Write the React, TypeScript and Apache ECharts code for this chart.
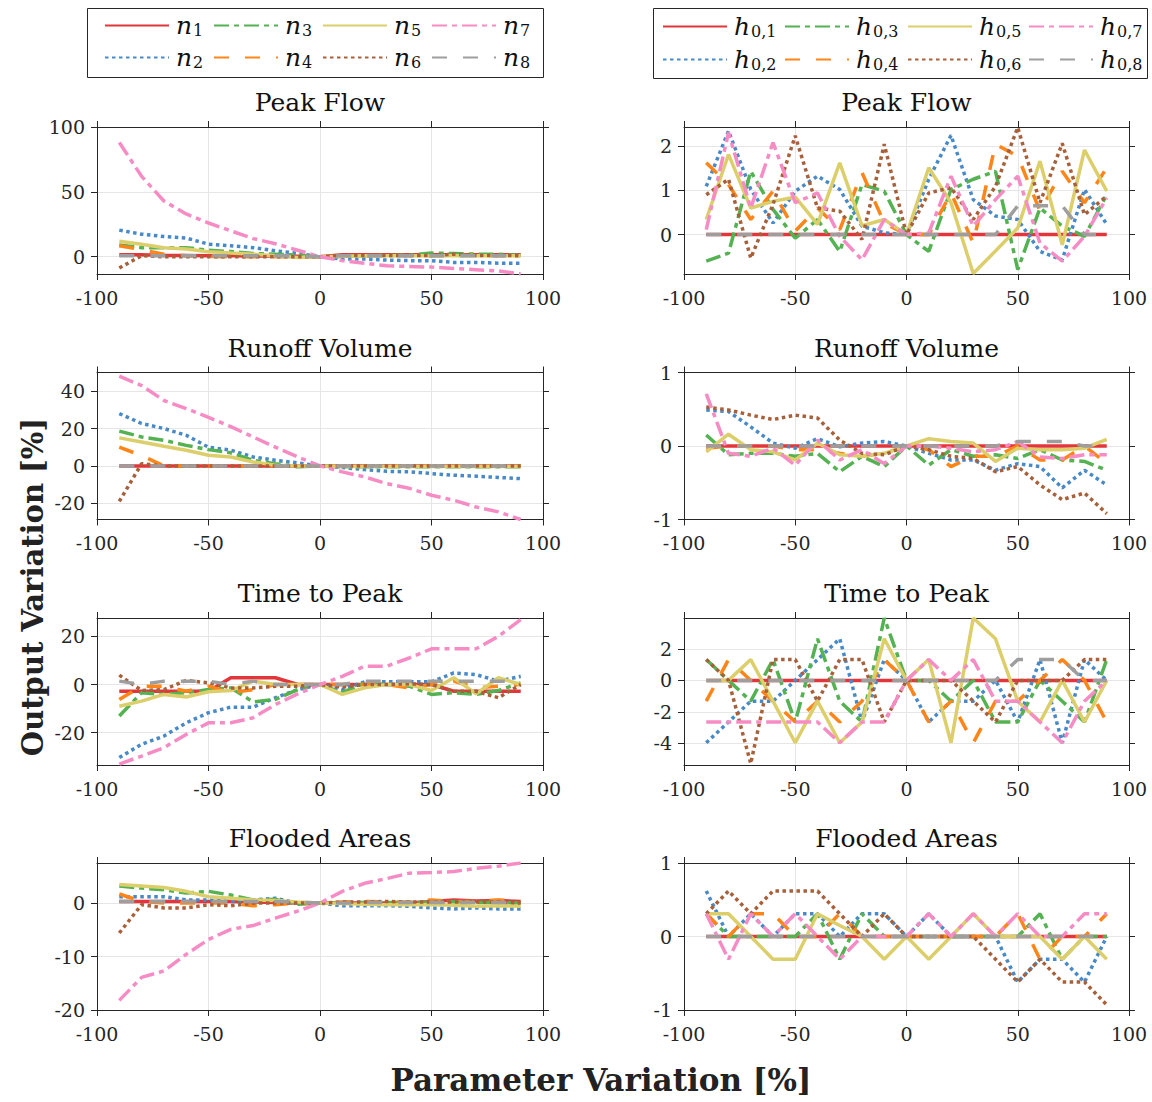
import React, { useEffect, useRef } from 'react';
import * as echarts from 'echarts';

const X = [-90, -80, -70, -60, -50, -40, -30, -20, -10, 0, 10, 20, 30, 40, 50, 60, 70, 80, 90];

// Peak Flow – roughness n
const PF_N1 = [1.5, 1.5, 1, 1, 0.8, 0.8, 0.5, 0.5, 0.3, 0, 1.5, 1.5, 1.5, 1.5, 1.5, 1.5, 1.5, 1.5, 1.5];
const PF_N2 = [20.5, 17.4, 15.6, 14.4, 9.7, 8.5, 7, 4.6, 2.6, 0, -1.8, -1.8, -2.6, -3, -3, -4.4, -4.4, -5, -5];
const PF_N3 = [9, 7, 7, 7, 5, 4, 2.5, 2, 1.3, 0, 0.2, 0.8, 1, 1.2, 2.8, 2.5, 2, 2, 1];
const PF_N4 = [8.5, 5.4, 2, 0.8, 0.3, 0, 0, 0, 0, 0, 0.5, 0.8, 1, 0.8, 0.5, 1, 1.2, 0.8, 0.8];
const PF_N5 = [12, 9.7, 7, 6, 3.8, 2.8, 2, 0.8, -0.5, 0, 0.3, 0.8, 0.8, 0.8, 0.8, 0.8, 0.8, 0.8, 0.8];
const PF_N6 = [-8.7, 0.8, 0, 0, 0, 0, 0, 0, 0, 0, 1, 1, 1, 1, 1, 2, 1, 1, 0.8];
const PF_N7 = [88, 62, 43, 33, 26, 20, 14, 10, 5, 0, -3, -5, -7, -7.5, -8, -9, -10, -11, -13.3];
const PF_N8 = [0.8, 0.8, 0.8, 0.8, 0.8, 0.8, 0.8, 0.8, 0.5, 0, 0.8, 0.8, 0.8, 0.8, 0.8, 0.8, 0.8, 0.8, 0.8];

// Peak Flow – initial depth h0
const PF_H1 = [0, 0, 0, 0, 0, 0, 0, 0, 0, 0, 0, 0, 0, 0, 0, 0, 0, 0, 0];
const PF_H2 = [1.09, 2.34, 1.02, 0.26, 0.98, 1.32, 1.02, 0.19, 0.04, 0, 1.25, 2.24, 0.79, 0.42, 0.34, -0.38, -0.57, 1.02, 0.23];
const PF_H3 = [-0.6, -0.42, 1.43, 0.57, -0.08, 0.34, -0.38, 1.13, 0.98, 0, -0.38, 1.02, 1.25, 1.43, -0.79, 0.6, 0.19, -0.04, 0.9];
const PF_H4 = [1.62, 1.13, 0.34, 0.98, 0.08, 0.6, 0.11, 1.4, 0.26, 0, 0, 0.94, -0.19, 2.04, 1.77, 0.53, 1.43, 0.72, 1.51];
const PF_H5 = [0.34, 1.81, 0.6, 0.75, 0.85, 0.23, 1.62, 0.2, 0.34, 0, 1.51, 0.72, -0.88, -0.37, 0.15, 1.66, -0.23, 1.91, 0.98];
const PF_H6 = [0.9, 1.25, -0.53, 0.68, 2.23, 0.6, 0.53, -0.11, 2.04, 0, 0.94, 1.06, 0.34, 1.09, 2.42, 0.72, 2.06, 0.45, 0.87];
const PF_H7 = [0.11, 2.3, 0.6, 2.08, 0.72, 0.94, -0.04, -0.57, 0.34, 0, 0.04, 1.32, 0.19, 0.79, 1.32, -0.19, -0.6, -0.04, 0.83];
const PF_H8 = [0, 0, 0, 0, 0, 0, 0, 0, 0, 0, 0, 0, 0, 0, 0.65, 0.65, 0.65, 0, 0];

// Runoff Volume – n
const RV_N1 = [0, 0, 0, 0, 0, 0, 0, 0, 0, 0, 0, 0, 0, 0, 0, 0, 0, 0, 0];
const RV_N2 = [28, 22.7, 20, 16.4, 10, 8.4, 4.8, 3, 1.6, 0, -0.9, -2, -2.9, -3.2, -4.1, -5, -5.5, -6.2, -6.8];
const RV_N3 = [18.6, 15.5, 13.7, 11, 8.7, 7, 3, 1.2, -0.5, 0, -0.5, -0.5, -0.5, -0.5, -0.5, -0.5, -0.5, -0.5, -0.5];
const RV_N4 = [10, 5.5, 0, 0, 0, 0, 0, 0, 0, 0, 0, 0, 0, 0, 0, 0, 0, 0, 0];
const RV_N5 = [15, 12.8, 10.5, 8.4, 5.7, 4.8, 2.1, 0.4, 0, 0, -0.3, -0.3, -0.3, -0.3, -0.3, -0.3, -0.3, -0.3, -0.3];
const RV_N6 = [-19, 1.2, 0, 0, 0, 0, 0, 0, 0, 0, 0, 0, 0, 0, 0, 0, 0, 0, 0];
const RV_N7 = [48, 43, 35, 30.7, 26, 21, 15.5, 10, 4.8, 0, -3.2, -5.9, -9.5, -12, -15.7, -18.4, -22, -24.6, -28.7];
const RV_N8 = [0, 0, 0, 0, 0, 0, 0, 0, 0, 0, 0, 0, 0, 0, 0, 0, 0, 0, 0];

// Runoff Volume – h0
const RV_H1 = [0, 0, 0, 0, 0, 0, 0, 0, 0, 0, 0, 0, 0, 0, 0, 0, 0, 0, 0];
const RV_H2 = [0.49, 0.47, 0.26, 0.04, -0.03, 0.1, -0.01, 0.04, 0.06, 0, -0.1, -0.19, -0.19, -0.33, -0.24, -0.28, -0.57, -0.33, -0.53];
const RV_H3 = [0.15, -0.12, -0.1, -0.1, -0.14, -0.1, -0.35, -0.14, -0.28, 0, -0.26, -0.05, -0.14, -0.12, -0.17, -0.05, -0.19, -0.21, -0.33];
const RV_H4 = [-0.03, 0, 0, 0, -0.05, -0.05, -0.1, -0.14, -0.1, 0, -0.05, -0.28, -0.14, -0.14, 0, -0.19, -0.19, 0, -0.24];
const RV_H5 = [-0.08, 0.16, -0.05, -0.08, -0.19, 0.04, -0.12, -0.14, -0.1, 0, 0.1, 0.06, 0.04, -0.21, -0.03, -0.05, -0.05, -0.03, 0.09];
const RV_H6 = [0.53, 0.49, 0.42, 0.36, 0.42, 0.38, 0.08, -0.1, -0.12, 0, -0.05, -0.14, -0.17, -0.35, -0.28, -0.53, -0.73, -0.64, -0.92];
const RV_H7 = [0.71, -0.1, -0.14, -0.03, -0.26, 0.08, -0.19, -0.05, -0.24, 0, 0, -0.03, -0.08, -0.05, 0.06, -0.15, -0.17, -0.12, -0.12];
const RV_H8 = [0, 0, 0, 0, 0, 0, 0, 0, 0, 0, 0, 0, 0, 0, 0.06, 0.06, 0.06, 0, 0];

// Time to Peak – n
const TP_N1 = [-2.8, -2.8, -2.8, -2.8, -2.8, 2.8, 2.8, 2.8, 0, 0, 0, 0, 0, 0, 0, -2.8, -2.8, -2.8, -2.8];
const TP_N2 = [-30.3, -24.8, -21.4, -15.9, -11.7, -9.4, -9.4, -5.5, -2.1, 0, -2, 1.1, 1.1, 1.1, 1.1, 4.8, 4.1, 1.4, 3.4];
const TP_N3 = [-13.1, -3.4, -4.1, -3.4, -2.1, -1.4, -7.2, -6.2, -2.1, 0, -3.4, 0.7, 0, -0.7, -4.1, -3.4, -4.1, -2.5, 0.7];
const TP_N4 = [-6.2, -0.7, -0.7, -2.8, -0.7, -3.4, -2.1, 0, 0, 0, 0, 0, 0, -1.4, 0, 1.4, -1.4, -0.7, 0];
const TP_N5 = [-9, -6.9, -4.1, -5.2, -3, -2.5, 1.4, 0, 0, 0, -4.1, -1.4, 0, 0, -2.5, 2.8, -3.9, 2.8, 0];
const TP_N6 = [3.9, -2.5, -2.1, 1.7, 0.7, -1.4, -1.4, -0.7, -0.7, 0, -1.1, 0, 0, 0.3, 0, -2.8, -2.8, -5.5, 0];
const TP_N7 = [-33, -29.7, -26.2, -20.7, -15.9, -15.9, -13.8, -8.3, -3.9, 0, 3.4, 7.6, 7.6, 11, 14.8, 14.8, 14.8, 20, 26.9];
const TP_N8 = [1.4, 0, 1.4, 1.4, 1.4, 0, 1.4, 0, 0, 0, 0, 1.4, 1.4, 1.4, 1.4, 1.4, 1.4, 1.4, 1.4];

// Time to Peak – h0
const TP_H1 = [0, 0, 0, 0, 0, 0, 0, 0, 0, 0, 0, 0, 0, 0, 0, 0, 0, 0, 0];
const TP_H2 = [-3.96, -2.64, -1.32, -1.32, 0, 1.32, 2.64, -2.64, 1.32, 0, -2.64, -1.32, -1.32, 0, -2.64, 1.32, -3.96, 1.32, 0];
const TP_H3 = [1.32, 0, -1.32, 1.32, -2.64, 2.64, -1.32, -2.64, 3.96, 0, 0, -1.32, 0, -2.64, -2.64, 0, -1.32, -2.64, 1.32];
const TP_H4 = [-1.32, 1.32, 0, -1.32, -2.64, -1.32, -2.64, -1.32, 1.32, 0, -2.64, -1.32, -3.96, -1.32, -1.32, 0, 1.32, 0, -2.64];
const TP_H5 = [0, 0, 1.32, -1.32, -3.96, -1.32, -3.96, -2.64, 2.64, 0, 1.32, -3.96, 3.96, 2.64, -1.32, -2.64, 0, -2.64, 0];
const TP_H6 = [1.32, 0, -5.28, 1.32, 1.32, -1.32, 1.32, 1.32, -2.64, 0, 0, 0, -1.32, -2.64, 0, 0, 0, 1.32, 1.32];
const TP_H7 = [-2.64, -2.64, -2.64, -2.64, -2.64, -2.64, -3.96, -2.64, -2.64, 0, 1.32, 0, 1.32, -1.32, -1.32, -2.64, -3.96, -1.32, 0];
const TP_H8 = [0, 0, 0, 0, 0, 0, 0, 0, 0, 0, 0, 0, 0, 0, 1.32, 1.32, 1.32, 0, 0];

// Flooded Areas – n
const FA_N1 = [0.3, 0.3, 0.3, 0.3, 0.3, 0.3, 0.2, 0.1, 0, 0, 0, 0, 0, 0, 0.3, 0.6, 0.4, 0.5, 0.3];
const FA_N2 = [1.2, 1.2, 1.2, 0.6, 0.6, 0.3, 0.6, 0.9, 0, 0, -0.5, -0.5, -0.5, -0.6, -0.9, -1.1, -0.9, -1.1, -1.1];
const FA_N3 = [3.2, 2.8, 2.5, 1.9, 2.2, 1.5, 0.6, 0.7, -0.2, 0, 0.1, 0.1, 0.1, 0.1, 0.1, 0.3, 0.1, 0.1, 0];
const FA_N4 = [1.7, 0.3, 0, 0, 0, 0, -0.5, -0.3, 0, 0, 0.2, 0.3, 0.2, 0.2, 0.6, 0.3, 0.3, 0.6, 0.3];
const FA_N5 = [3.5, 3.2, 2.9, 2.2, 1.2, 0.9, 0.6, 0.5, 0.2, 0, -0.1, -0.2, -0.3, -0.3, -0.3, -0.4, -0.6, -0.5, -0.6];
const FA_N6 = [-5.6, -0.3, -0.9, -0.9, -0.3, -0.5, 0, 0, 0, 0, 0.2, 0.2, 0.3, 0.2, 0.2, 0.2, 0.2, 0.2, 0];
const FA_N7 = [-18.2, -13.9, -12.7, -9.6, -6.8, -4.9, -4.2, -2.8, -1.5, 0, 2.2, 3.7, 4.6, 5.6, 5.7, 5.9, 6.5, 6.9, 7.5];
const FA_N8 = [0.3, 0.3, 0.3, 0.3, 0.3, 0.3, 0.3, 0.3, 0.2, 0, 0, 0.1, 0.1, 0.1, 0.1, 0.1, 0.1, 0.1, 0.1];

// Flooded Areas – h0
const FA_H1 = [0, 0, 0, 0, 0, 0, 0, 0, 0, 0, 0, 0, 0, 0, 0, 0, 0, 0, 0];
const FA_H2 = [0.62, 0, 0.31, 0, 0.31, 0.31, 0, 0.31, 0.31, 0, 0.31, 0, 0, 0, -0.62, -0.31, -0.31, -0.62, 0];
const FA_H3 = [0.31, 0, 0, 0, 0, 0.31, -0.31, 0.31, 0, 0, 0, 0, 0, 0, 0, 0.31, -0.31, 0, 0];
const FA_H4 = [0.31, 0, 0.31, 0.31, 0, 0, 0.31, 0, 0, 0, 0, 0, 0, 0, 0.31, -0.31, 0, 0, 0.31];
const FA_H5 = [0.31, 0.31, 0, -0.31, -0.31, 0.31, 0.15, 0, -0.31, 0, -0.31, 0, 0.31, 0, 0, 0, -0.31, 0, -0.31];
const FA_H6 = [0.31, 0.62, 0.31, 0.62, 0.62, 0.62, 0.31, 0, 0.31, 0, 0, 0, 0, -0.31, -0.62, -0.31, -0.62, -0.62, -0.93];
const FA_H7 = [0.31, -0.31, 0.31, 0, 0.31, 0, -0.31, 0, 0, 0, 0.31, 0, 0.31, 0, 0.31, 0, 0, 0.31, 0.31];
const FA_H8 = [0, 0, 0, 0, 0, 0, 0, 0, 0, 0, 0, 0, 0, 0, 0, 0, 0, 0, 0];

const N_NAMES = ['n1', 'n2', 'n3', 'n4', 'n5', 'n6', 'n7', 'n8'];
const H_NAMES = ['h1', 'h2', 'h3', 'h4', 'h5', 'h6', 'h7', 'h8'];
const N_SUBS = ['1', '2', '3', '4', '5', '6', '7', '8'];
const H_SUBS = ['0,1', '0,2', '0,3', '0,4', '0,5', '0,6', '0,7', '0,8'];

const TITLES = ['Peak Flow', 'Runoff Volume', 'Time to Peak', 'Flooded Areas'];
const X_LABEL = 'Parameter Variation [%]';
const Y_LABEL = 'Output Variation [%]';

const PANELS = [
  { title: TITLES[0], col: 0, row: 0, data: [PF_N1, PF_N2, PF_N3, PF_N4, PF_N5, PF_N6, PF_N7, PF_N8], min: -13.3, max: 100, ticks: [0, 50, 100] },
  { title: TITLES[0], col: 1, row: 0, data: [PF_H1, PF_H2, PF_H3, PF_H4, PF_H5, PF_H6, PF_H7, PF_H8], min: -0.89, max: 2.43, ticks: [0, 1, 2] },
  { title: TITLES[1], col: 0, row: 1, data: [RV_N1, RV_N2, RV_N3, RV_N4, RV_N5, RV_N6, RV_N7, RV_N8], min: -28.7, max: 50, ticks: [-20, 0, 20, 40] },
  { title: TITLES[1], col: 1, row: 1, data: [RV_H1, RV_H2, RV_H3, RV_H4, RV_H5, RV_H6, RV_H7, RV_H8], min: -1, max: 1, ticks: [-1, 0, 1] },
  { title: TITLES[2], col: 0, row: 2, data: [TP_N1, TP_N2, TP_N3, TP_N4, TP_N5, TP_N6, TP_N7, TP_N8], min: -33.4, max: 27.6, ticks: [-20, 0, 20] },
  { title: TITLES[2], col: 1, row: 2, data: [TP_H1, TP_H2, TP_H3, TP_H4, TP_H5, TP_H6, TP_H7, TP_H8], min: -5.37, max: 3.96, ticks: [-4, -2, 0, 2] },
  { title: TITLES[3], col: 0, row: 3, data: [FA_N1, FA_N2, FA_N3, FA_N4, FA_N5, FA_N6, FA_N7, FA_N8], min: -20, max: 7.5, ticks: [-20, -10, 0] },
  { title: TITLES[3], col: 1, row: 3, data: [FA_H1, FA_H2, FA_H3, FA_H4, FA_H5, FA_H6, FA_H7, FA_H8], min: -1, max: 1, ticks: [-1, 0, 1] },
];

const COLORS = ['#e3363a', '#4889c8', '#55b252', '#ff8518', '#dccf6b', '#a8603a', '#f78cc4', '#9e9e9e'];
const DASHES: any[] = ['solid', [3.5, 3.5], [15, 5, 5, 5], [15, 16], 'solid', [3.5, 3.5], [15, 5, 5, 5], [15, 16]];

const FONT = 'DejaVu Serif';
const AX = '#262626';
const COL_LEFT = [97, 684];
const COL_WIDTH = [446, 445];
const ROW_TOP = [127, 372.5, 618, 863];
const PLOT_H = 147;

function buildOption() {
  const grid: any[] = [];
  const xAxis: any[] = [];
  const yAxis: any[] = [];
  const title: any[] = [];
  const series: any[] = [];
  const axisLine = { show: true, onZero: false, lineStyle: { color: AX, width: 1 } };
  const tick = { show: true, inside: false, length: 6, lineStyle: { color: AX, width: 1 } };
  const labelStyle = { fontFamily: FONT, fontSize: 19, color: AX };
  const gridLine = { show: true, lineStyle: { color: '#e6e6e6', width: 1 } };

  PANELS.forEach((p, g) => {
    const left = COL_LEFT[p.col];
    const width = COL_WIDTH[p.col];
    const top = ROW_TOP[p.row];
    grid.push({ left, top, width, height: PLOT_H, containLabel: false });
    title.push({
      text: p.title, left: left + width / 2, top: top - 37, textAlign: 'center', padding: 0,
      textStyle: { fontFamily: FONT, fontSize: 25, fontWeight: 'normal', color: '#111' },
    });
    xAxis.push({
      type: 'value', gridIndex: g, position: 'bottom', min: -100, max: 100, interval: 50,
      axisLine, axisTick: tick, axisLabel: { ...labelStyle, margin: 14 }, splitLine: gridLine,
    });
    xAxis.push({
      type: 'value', gridIndex: g, position: 'top', min: -100, max: 100, interval: 50,
      axisLine, axisTick: tick, axisLabel: { show: false }, splitLine: { show: false },
    });
    yAxis.push({
      type: 'value', gridIndex: g, position: 'left', min: p.min, max: p.max,
      axisLine, axisTick: { ...tick, customValues: p.ticks },
      axisLabel: { ...labelStyle, margin: 12, customValues: p.ticks }, splitLine: gridLine,
    });
    yAxis.push({
      type: 'value', gridIndex: g, position: 'right', min: p.min, max: p.max,
      axisLine, axisTick: { ...tick, customValues: p.ticks },
      axisLabel: { show: false, customValues: p.ticks }, splitLine: { show: false },
    });
    const names = p.col === 0 ? N_NAMES : H_NAMES;
    p.data.forEach((arr, k) => {
      series.push({
        type: 'line', name: names[k], xAxisIndex: 2 * g, yAxisIndex: 2 * g,
        data: X.map((x, i) => [x, arr[i]]),
        symbol: 'none', showSymbol: false, clip: true,
        color: COLORS[k],
        lineStyle: { color: COLORS[k], width: 3.5, type: DASHES[k] },
        emphasis: { disabled: true },
      });
    });
  });

  const legend: any[] = [];
  const rich = {
    i: { fontFamily: FONT, fontStyle: 'italic', fontSize: 25, color: '#111', lineHeight: 30 },
    s: { fontFamily: FONT, fontSize: 16, color: '#111', padding: [9, 0, 0, 1] },
  };
  const legendX = [[104, 213, 322, 431], [662, 784, 907, 1028]];
  const legendY = [[28, 60], [29, 62]];
  [N_NAMES, H_NAMES].forEach((names, side) => {
    const subs = side === 0 ? N_SUBS : H_SUBS;
    const base = side === 0 ? 'n' : 'h';
    names.forEach((name, k) => {
      const col = Math.floor(k / 2);
      const row = k % 2;
      legend.push({
        data: [name], left: legendX[side][col], top: legendY[side][row] - 15,
        itemWidth: 64, itemHeight: 12, padding: 0, itemGap: 0, selectedMode: false,
        itemStyle: { opacity: 0 },
        formatter: () => `{i|${base}}{s|${subs[k]}}`,
        textStyle: { rich, padding: [0, 0, 0, 2] },
      });
    });
  });

  const graphic = [
    { type: 'rect', shape: { x: 87.5, y: 8.5, width: 456, height: 69 }, style: { fill: 'none', stroke: AX, lineWidth: 1 }, silent: true },
    { type: 'rect', shape: { x: 653.5, y: 8.5, width: 494, height: 70 }, style: { fill: 'none', stroke: AX, lineWidth: 1 }, silent: true },
    {
      type: 'text', x: 33, y: 587, rotation: Math.PI / 2, silent: true,
      style: { text: Y_LABEL, fontFamily: FONT, fontWeight: 'bold', fontSize: 29, fill: '#222', align: 'center', verticalAlign: 'middle' },
    },
    {
      type: 'text', x: 601, y: 1080, silent: true,
      style: { text: X_LABEL, fontFamily: FONT, fontWeight: 'bold', fontSize: 31, fill: '#222', align: 'center', verticalAlign: 'middle' },
    },
  ];

  return { animation: false, backgroundColor: '#ffffff', grid, xAxis, yAxis, title, series, legend, graphic };
}

export default function App() {
  const ref = useRef<HTMLDivElement>(null);
  useEffect(() => {
    document.body.style.margin = '0';
    if (!ref.current) return;
    const chart = echarts.init(ref.current, undefined, { renderer: 'svg' });
    chart.setOption(buildOption() as any);
    return () => chart.dispose();
  }, []);
  return <div ref={ref} style={{ width: 1152, height: 1102 }} />;
}
